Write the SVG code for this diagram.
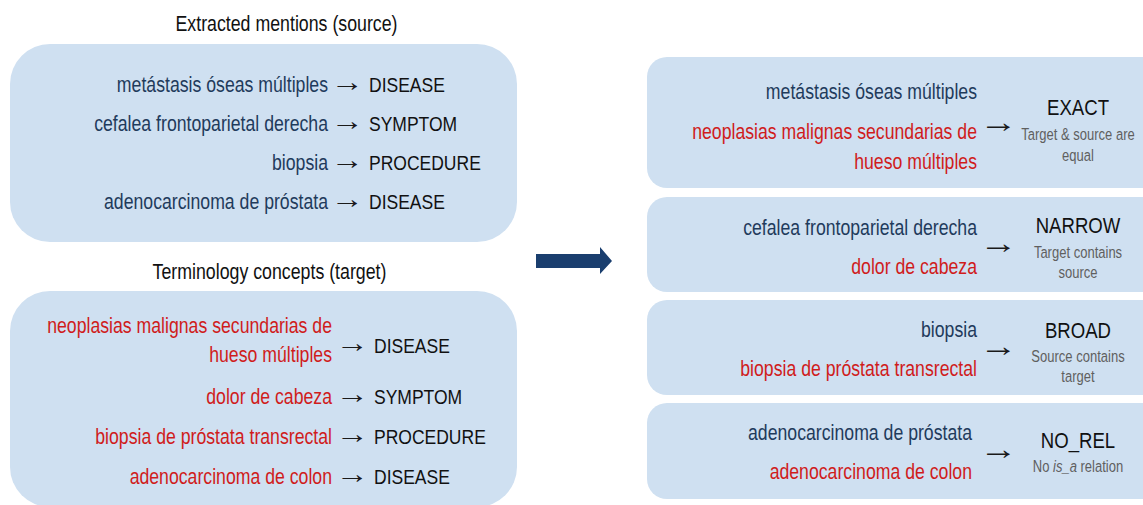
<svg xmlns="http://www.w3.org/2000/svg" width="1143" height="505" viewBox="0 0 1143 505">
  <style>
    text { font-family: "Liberation Sans", Arial, sans-serif; }
    .box { fill: #cfe0f1; }
    .title { font-size: 21.4px; fill: #111; text-anchor: middle; }
    .src { font-size: 21.3px; fill: #1f3b5c; text-anchor: end; }
    .tgt { font-size: 21.3px; fill: #d01c1c; text-anchor: end; }
    .cat { font-size: 21.1px; fill: #111; }
    .arr { font-size: 27px; fill: #1a1a1a; }
    .rarr { font-size: 30px; fill: #1a1a1a; text-anchor: middle; }
    .rel { font-size: 22.4px; fill: #111; text-anchor: middle; }
    .desc { font-size: 15.7px; fill: #5f5f5f; text-anchor: middle; }
  </style>

  <!-- Labels use a narrow horizontal scale: translate(x y) scale(.83 1);
       the small arrows are stretched the other way to stay long and thin -->

  <!-- Source mentions and their categories -->
  <g id="source-panel">
    <text class="title" transform="translate(286.5 31) scale(.83 1)">Extracted mentions (source)</text>
    <rect class="box" x="10" y="44" width="507" height="198" rx="40"/>
    <text class="src" transform="translate(328 92) scale(.83 1)">metástasis óseas múltiples</text>
    <text class="arr" transform="translate(331 91) scale(1.22 1)">→</text>
    <text class="cat" transform="translate(369 92) scale(.83 1)">DISEASE</text>
    <text class="src" transform="translate(328 131) scale(.83 1)">cefalea frontoparietal derecha</text>
    <text class="arr" transform="translate(331 130) scale(1.22 1)">→</text>
    <text class="cat" transform="translate(369 131) scale(.83 1)">SYMPTOM</text>
    <text class="src" transform="translate(328 170) scale(.83 1)">biopsia</text>
    <text class="arr" transform="translate(331 169) scale(1.22 1)">→</text>
    <text class="cat" transform="translate(369 170) scale(.83 1)">PROCEDURE</text>
    <text class="src" transform="translate(328 209) scale(.83 1)">adenocarcinoma de próstata</text>
    <text class="arr" transform="translate(331 208) scale(1.22 1)">→</text>
    <text class="cat" transform="translate(369 209) scale(.83 1)">DISEASE</text>
  </g>

  <!-- Terminology concepts and their categories -->
  <g id="target-panel">
    <text class="title" transform="translate(269.5 279) scale(.83 1)">Terminology concepts (target)</text>
    <rect class="box" x="10" y="291" width="507" height="216" rx="40"/>
    <text class="tgt" transform="translate(332 333) scale(.83 1)">neoplasias malignas secundarias de</text>
    <text class="tgt" transform="translate(332 362) scale(.83 1)">hueso múltiples</text>
    <text class="arr" transform="translate(336 352) scale(1.22 1)">→</text>
    <text class="cat" transform="translate(374 352.5) scale(.83 1)">DISEASE</text>
    <text class="tgt" transform="translate(332 403.5) scale(.83 1)">dolor de cabeza</text>
    <text class="arr" transform="translate(336 403) scale(1.22 1)">→</text>
    <text class="cat" transform="translate(374 403.5) scale(.83 1)">SYMPTOM</text>
    <text class="tgt" transform="translate(332 443.5) scale(.83 1)">biopsia de próstata transrectal</text>
    <text class="arr" transform="translate(336 443) scale(1.22 1)">→</text>
    <text class="cat" transform="translate(374 443.5) scale(.83 1)">PROCEDURE</text>
    <text class="tgt" transform="translate(332 483.5) scale(.83 1)">adenocarcinoma de colon</text>
    <text class="arr" transform="translate(336 483) scale(1.22 1)">→</text>
    <text class="cat" transform="translate(374 483.5) scale(.83 1)">DISEASE</text>
  </g>

  <!-- Block arrow from the inputs to the relation examples -->
  <g id="connectors">
    <polygon points="536,254 600,254 600,247 612,261 600,274 600,268 536,268" fill="#1a3e6e"/>
  </g>

  <!-- Relation examples -->
  <g id="rel-exact">
    <rect class="box" x="647" y="57" width="520" height="131" rx="20"/>
    <text class="src" transform="translate(977 98.5) scale(.83 1)">metástasis óseas múltiples</text>
    <text class="tgt" transform="translate(977 138.5) scale(.83 1)">neoplasias malignas secundarias de</text>
    <text class="tgt" transform="translate(977 168.5) scale(.83 1)">hueso múltiples</text>
    <text class="rarr" transform="translate(998.5 131.5) scale(1.28 1)">→</text>
    <text class="rel" transform="translate(1078 115) scale(.83 1)">EXACT</text>
    <text class="desc" transform="translate(1078 140) scale(.83 1)">Target &amp; source are</text>
    <text class="desc" transform="translate(1078 161) scale(.83 1)">equal</text>
  </g>

  <g id="rel-narrow">
    <rect class="box" x="647" y="197" width="520" height="95" rx="20"/>
    <text class="src" transform="translate(977 234.5) scale(.83 1)">cefalea frontoparietal derecha</text>
    <text class="tgt" transform="translate(977 273.5) scale(.83 1)">dolor de cabeza</text>
    <text class="rarr" transform="translate(998.5 252.5) scale(1.28 1)">→</text>
    <text class="rel" transform="translate(1078 233) scale(.83 1)">NARROW</text>
    <text class="desc" transform="translate(1078 257.5) scale(.83 1)">Target contains</text>
    <text class="desc" transform="translate(1078 278) scale(.83 1)">source</text>
  </g>

  <g id="rel-broad">
    <rect class="box" x="647" y="300" width="520" height="95" rx="20"/>
    <text class="src" transform="translate(977 336.5) scale(.83 1)">biopsia</text>
    <text class="tgt" transform="translate(977 375.5) scale(.83 1)">biopsia de próstata transrectal</text>
    <text class="rarr" transform="translate(998.5 355.5) scale(1.28 1)">→</text>
    <text class="rel" transform="translate(1078 338) scale(.83 1)">BROAD</text>
    <text class="desc" transform="translate(1078 361.5) scale(.83 1)">Source contains</text>
    <text class="desc" transform="translate(1078 382) scale(.83 1)">target</text>
  </g>

  <g id="rel-norel">
    <rect class="box" x="647" y="403" width="520" height="96" rx="20"/>
    <text class="src" transform="translate(972 439.5) scale(.83 1)">adenocarcinoma de próstata</text>
    <text class="tgt" transform="translate(972 478.5) scale(.83 1)">adenocarcinoma de colon</text>
    <text class="rarr" transform="translate(998.5 458.5) scale(1.28 1)">→</text>
    <text class="rel" transform="translate(1078 448) scale(.83 1)">NO_REL</text>
    <text class="desc" transform="translate(1078 472) scale(.83 1)">No <tspan font-style="italic">is_a</tspan> relation</text>
  </g>
</svg>
